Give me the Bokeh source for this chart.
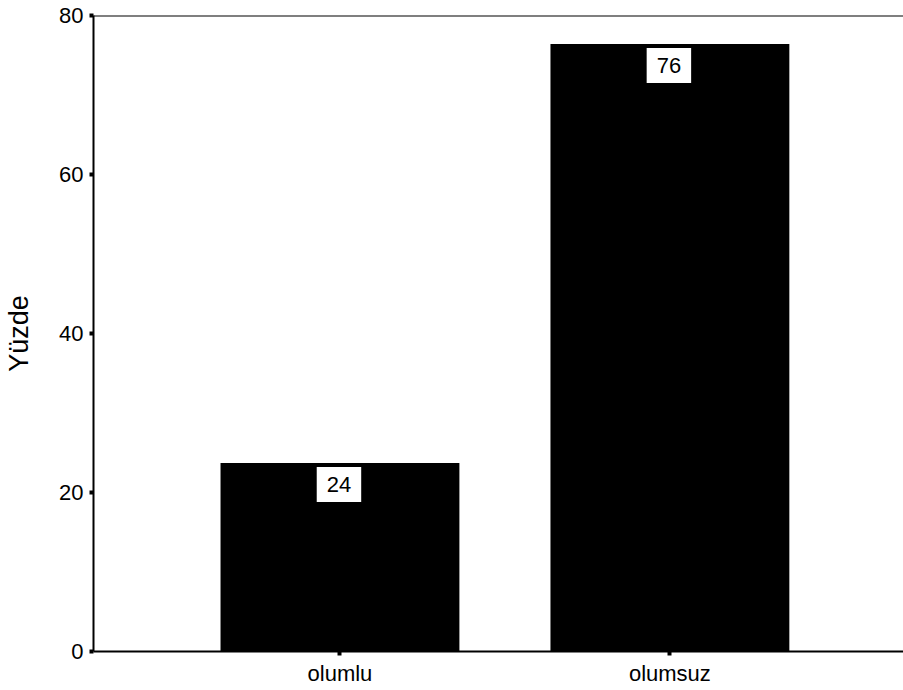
from bokeh.plotting import figure
from bokeh.models import Range1d, FixedTicker, ColumnDataSource, Label, Span
from bokeh.embed import file_html
from bokeh.resources import INLINE

categories = ["olumlu", "olumsuz"]
percent = [23.7, 76.4]
y_ticks = [0, 20, 40, 60, 80]

xs = list(range(len(categories)))
labels = [f"{v:.0f}" for v in percent]
src = ColumnDataSource(dict(x=xs, top=percent, label=labels))

FONT = "Liberation Sans"

p = figure(width=903, height=690, output_backend="svg", toolbar_location=None,
           x_range=Range1d(-0.747, 1.708), y_range=Range1d(0, 80),
           min_border_left=93, min_border_right=0, min_border_top=15, min_border_bottom=39)

p.vbar(x="x", top="top", width=0.724, bottom=0, source=src,
       fill_color="#000000", line_color=None)

for xv, tv, lb in zip(xs, percent, labels):
    p.add_layout(Label(x=xv, y=tv, text=lb, x_offset=-1, y_offset=-4,
                       text_align="center", text_baseline="top",
                       text_font=FONT, text_font_size="22px", text_color="#000000",
                       background_fill_color="#ffffff", border_line_color=None,
                       padding=dict(x=10, y=10)))

p.add_layout(Span(location=80, dimension="width", line_color="#000000", line_width=2))

p.outline_line_color = None
p.grid.visible = False
p.background_fill_color = "#ffffff"
p.border_fill_color = "#ffffff"

ya = p.yaxis[0]
ya.ticker = FixedTicker(ticks=y_ticks)
ya.minor_tick_line_color = None
ya.major_tick_in = 0
ya.major_tick_out = 4
ya.major_tick_line_width = 4
ya.axis_line_width = 2
ya.axis_line_color = "#000000"
ya.major_label_text_font = FONT
ya.major_label_text_font_size = "22px"
ya.major_label_text_color = "#000000"
ya.major_label_standoff = 6
ya.axis_label = "Yüzde"
ya.axis_label_text_font = FONT
ya.axis_label_text_font_size = "27px"
ya.axis_label_text_font_style = "normal"
ya.axis_label_text_color = "#000000"
ya.axis_label_standoff = 22

xa = p.xaxis[0]
xa.ticker = FixedTicker(ticks=xs)
xa.major_label_overrides = {i: c for i, c in zip(xs, categories)}
xa.minor_tick_line_color = None
xa.major_tick_in = 0
xa.major_tick_out = 4
xa.major_tick_line_width = 4
xa.axis_line_width = 2
xa.axis_line_color = "#000000"
xa.major_label_text_font = FONT
xa.major_label_text_font_size = "22px"
xa.major_label_text_color = "#000000"
xa.major_label_standoff = 5

open("out.html", "w").write(file_html(p, INLINE))
